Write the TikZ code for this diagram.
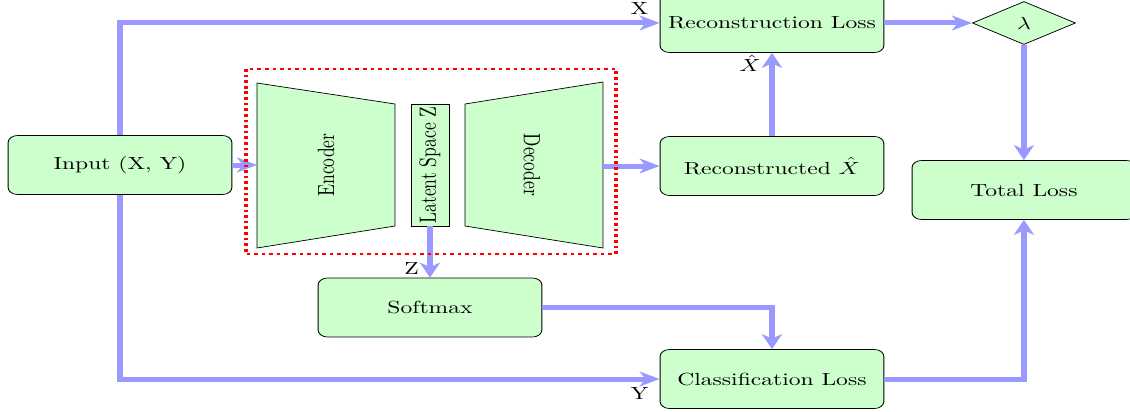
\documentclass[tikz,border=0pt]{standalone}
\usetikzlibrary{arrows.meta,shapes.geometric}
\begin{document}
\begin{tikzpicture}[x=0.2mm,y=-0.2mm,
	block/.style={draw,fill=green!20,rounded corners,minimum width=33.4mm,minimum height=11.8mm},
	flow/.style={-{Stealth[length=8.5pt,width=8.5pt,inset=2.5pt]},line width=1mm,draw=blue!40}]
	\useasboundingbox (0,0) rectangle (1130,412);
	\begin{scope}[x=0.14925mm,transform canvas={xscale=1.34}]
	%boxes
	\node[block] (input) at (120,165) {Input (X, Y)};
	\node[block] (recloss) at (772,23) {Reconstruction Loss};
	\node[block] (recon) at (772,166) {Reconstructed $\hat{X}$};
	\node[block] (total) at (1024,190) {Total Loss};
	\node[block] (softmax) at (430,307.5) {Softmax};
	\node[block] (classloss) at (772,379) {Classification Loss};
	\node[draw,fill=green!20,diamond,inner sep=0pt,minimum width=15.4mm,minimum height=8.6mm] (lambda) at (1024,23) {$\lambda$};

	%encoder and decoder
	\draw[fill=green!20] (257,83) -- (395,104) -- (395,226) -- (257,248) -- cycle; %encoder
	\node[rotate=90] (enctext) at (326,165) {Encoder};
	\draw[fill=green!20] (465,104) -- (603,82) -- (603,248) -- (465,226) -- cycle; %decoder
	\node[rotate=-90] (dectext) at (532,165) {Decoder};
	\node[draw,fill=green!20,rotate=90,inner sep=1pt,minimum width=24.4mm,minimum height=5.67mm] (latent) at (430,165) {Latent Space Z};
	\coordinate (encin) at (257,165);
	\coordinate (decout) at (603,166);

	%arrows
	\draw[flow] (input) -- (encin);
	\draw[flow] (decout) -- (recon);
	\draw[flow] (latent) -- (softmax) node[pos=1,above left,yshift=-1mm] (lblz) {Z};
	\draw[flow] (recon) -- (recloss) node[pos=1,below left,yshift=1.2mm] (lblxhat) {$\hat{X}$};
	\draw[flow] (input.north) |- (recloss.west) node[pos=1,above left] (lblx) {X};
	\draw[flow] (input.south) |- (classloss.west) node[pos=1,below left] (lbly) {Y};
	\draw[flow] (recloss) -- (lambda);
	\draw[flow] (lambda) -- (total);
	\draw[flow] (softmax.east) -| (classloss.north);
	\draw[flow] (classloss.east) -| (total.south);

	%autoencoder frame
	\draw[red,line width=1.5pt,dash pattern=on 1.5pt off 1.7pt] (246,69) rectangle (616,254);
	\end{scope}
\end{tikzpicture}
\end{document}
